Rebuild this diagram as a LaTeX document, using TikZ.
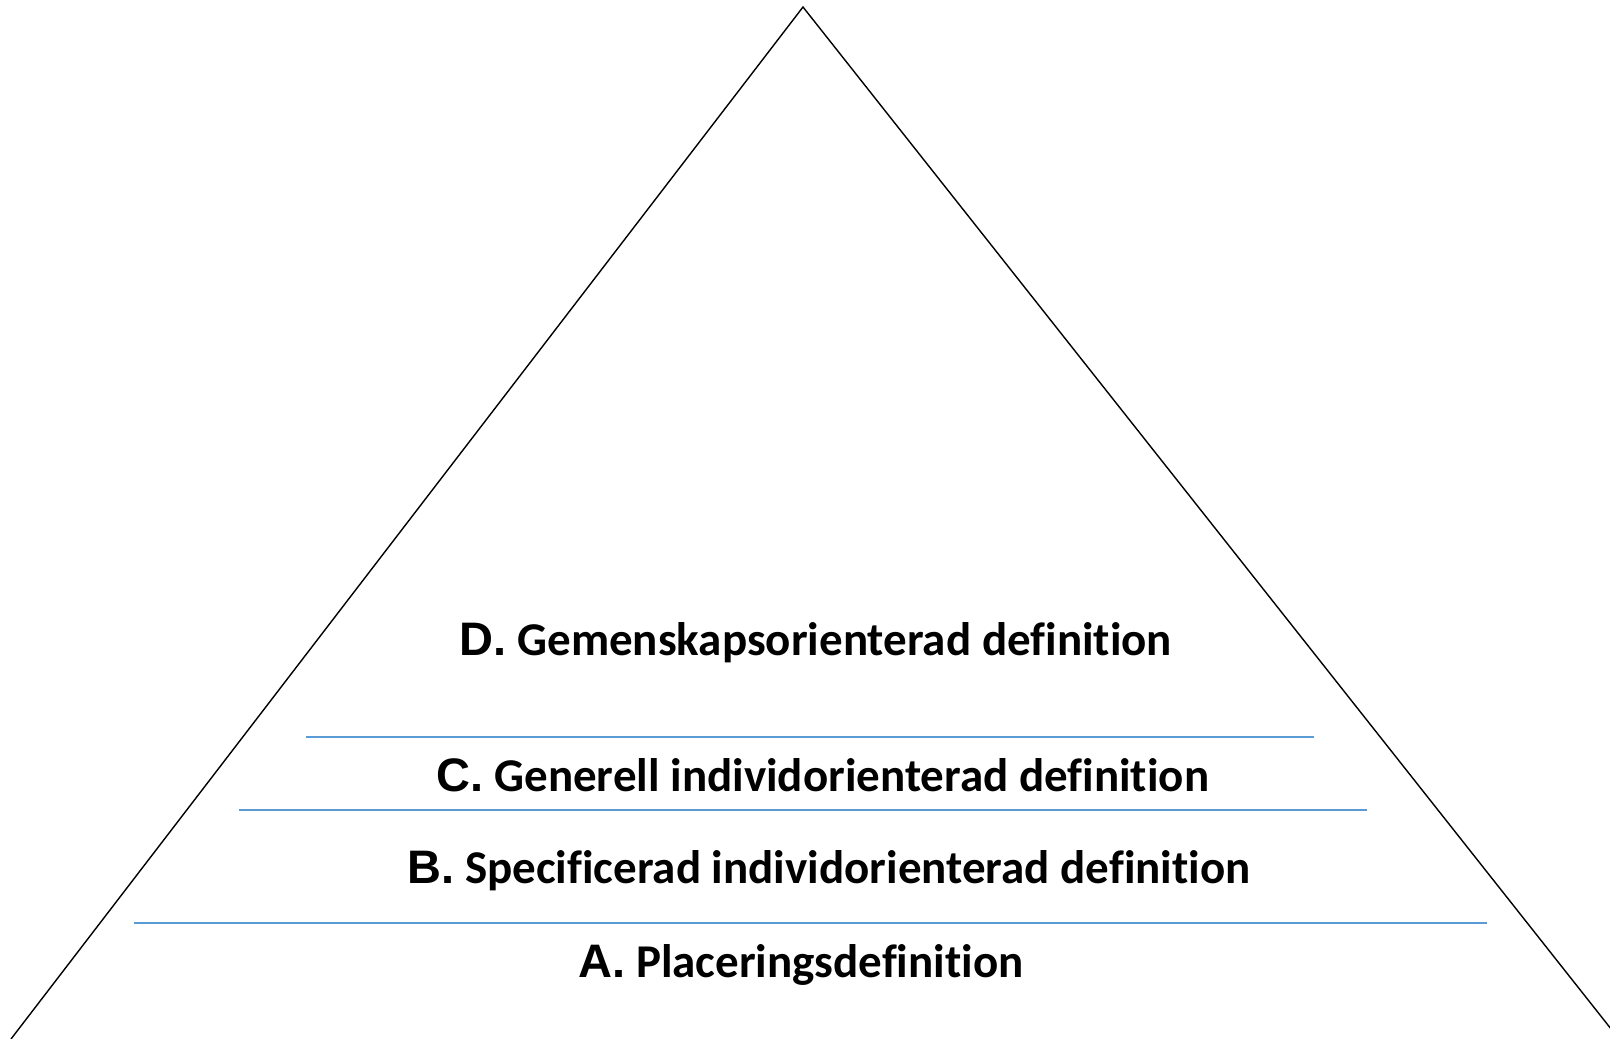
\documentclass[tikz,border=0pt]{standalone}
\usepackage{fontspec}
\setmainfont{Carlito}[RawFeature={-liga;-clig}]
\newfontfamily\arialfont{Liberation Sans}
\definecolor{lineblue}{RGB}{91,155,213}
\tikzset{
  lab/.style={anchor=base,inner sep=0pt,font=\bfseries\fontsize{47}{54}\selectfont},
  sep/.style={draw=lineblue,line width=2pt}
}
\newcommand{\lvl}[1]{{\arialfont\bfseries #1}}

\begin{document}
\begin{tikzpicture}[x=1pt,y=-1pt]
                \useasboundingbox (0,0) rectangle (1610,1039);
                \clip (0,0) rectangle (1610,1039);
                \coordinate (t) at (803,7);
                \coordinate (l) at (11,1039);
                \coordinate (r) at (1619,1039);
                \draw[line width=1.4pt] (l)--(t)--(r);

                \draw[sep,line width=1.2pt] (306,737)--(1314,737);
                \draw[sep] (239,810)--(1367,810);
                \draw[sep] (134,923)--(1487,923);

                \node[lab] (d) at (816,655) {\lvl{D.} Gemenskapsorienterad definition};
                \node[lab] (c) at (823,791) {\lvl{C.} Generell individorienterad definition};
                \node[lab] (b) at (829,883) {\lvl{B.} Specificerad individorienterad definition};
                \node[lab] (a) at (801,977) {\lvl{A.} Placeringsdefinition};
            \end{tikzpicture}
\end{document}
